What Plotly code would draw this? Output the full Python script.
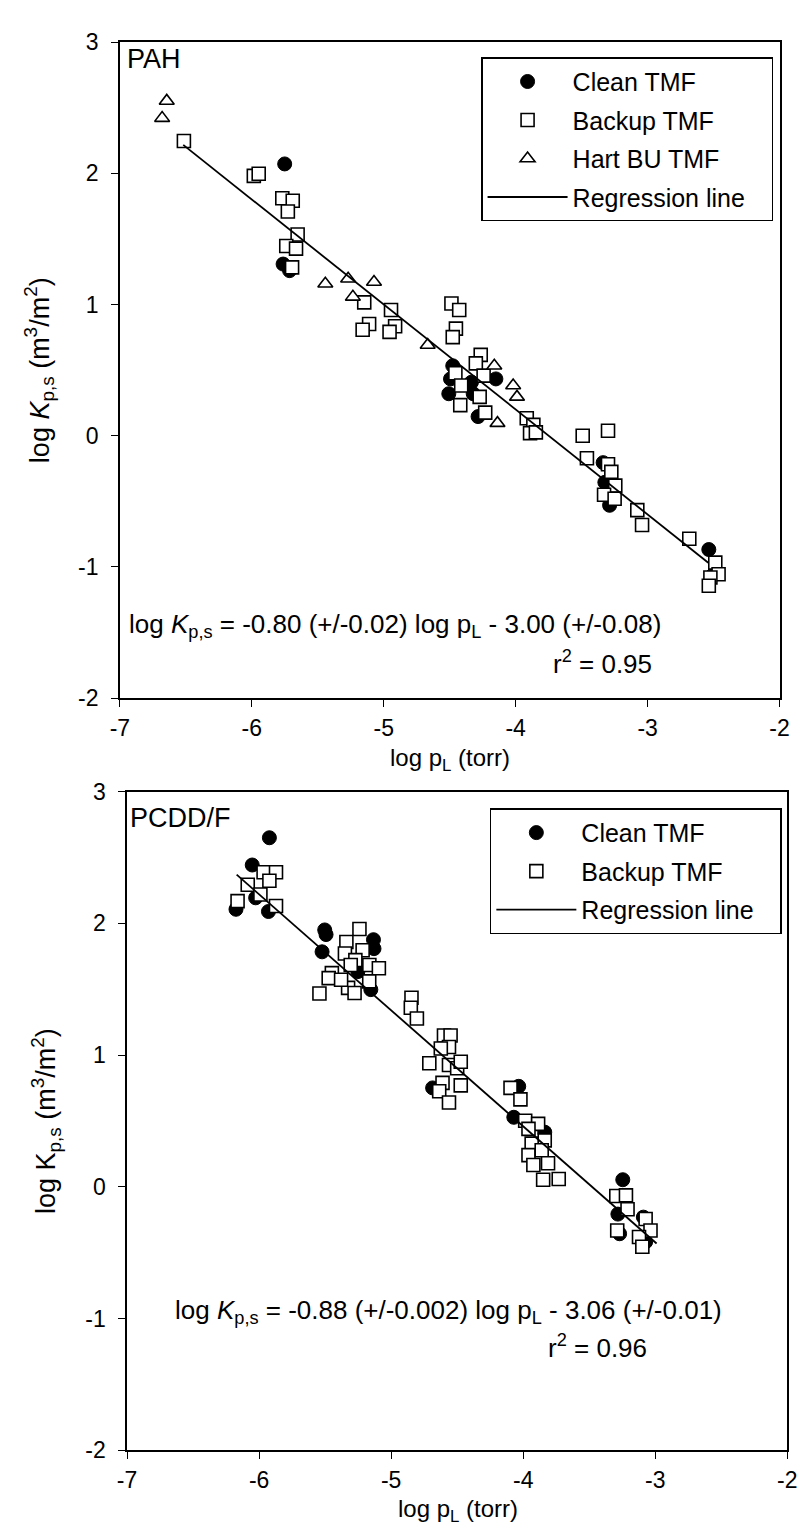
import plotly.graph_objects as go

W, H = 810, 1540
FONT = "Liberation Sans, Arial, sans-serif"

# ---------------- data: PAH panel ----------------
pah_clean_x = [-5.751, -5.763, -5.714, -4.477, -4.494, -4.507, -4.335, -4.150, -4.322, -4.285,
               -3.337, -3.324, -3.288, -2.536, -2.512]
pah_clean_y = [2.071, 1.308, 1.258, 0.533, 0.433, 0.320, 0.408, 0.433, 0.320, 0.146,
               -0.205, -0.355, -0.530, -0.867, -1.067]

pah_backup_x = [-6.515, -5.985, -5.948, -5.769, -5.690, -5.727, -5.653, -5.739, -5.665, -5.695,
                -5.148, -4.945, -5.111, -5.160, -4.914, -4.956, -4.487, -4.428, -4.453, -4.477,
                -4.265, -4.302, -4.457, -4.413, -4.243, -4.273, -4.420, -4.231, -3.916, -3.866,
                -3.891, -3.847, -3.492, -3.300, -3.460, -3.300, -3.275, -3.245, -3.330, -3.250,
                -3.078, -3.042, -2.684, -2.487, -2.462, -2.524, -2.536]
pah_backup_y = [2.246, 1.980, 1.996, 1.809, 1.791, 1.708, 1.533, 1.446, 1.426, 1.283,
                1.016, 0.958, 0.851, 0.808, 0.834, 0.791, 1.008, 0.958, 0.816, 0.751,
                0.616, 0.551, 0.476, 0.383, 0.458, 0.296, 0.233, 0.176, 0.133, 0.083,
                0.020, 0.026, 0.000, 0.038, -0.171, -0.217, -0.275, -0.380, -0.450, -0.480,
                -0.567, -0.680, -0.785, -0.967, -1.055, -1.080, -1.143]

pah_hart_x = [-6.645, -6.680, -5.443, -5.270, -5.074, -5.234, -4.667, -4.162, -4.019, -3.990, -4.138]
pah_hart_y = [2.551, 2.420, 1.158, 1.196, 1.171, 1.058, 0.691, 0.533, 0.383, 0.296, 0.096]

pah_reg_x = [-6.52, -2.54]
pah_reg_y = [2.216, -0.968]

# ---------------- data: PCDD/F panel ----------------
pcdd_clean_x = [-5.922, -6.052, -6.026, -6.175, -5.929, -5.503, -5.493, -5.523, -5.134, -5.130,
                -5.252, -5.154, -4.686, -4.034, -4.071, -3.837, -3.246, -3.283, -3.270, -3.090, -3.073]
pcdd_clean_y = [2.650, 2.443, 2.194, 2.107, 2.090, 1.950, 1.915, 1.784, 1.876, 1.808,
                1.634, 1.497, 0.751, 0.763, 0.528, 0.415, 0.054, -0.207, -0.356, -0.230, -0.418]

pcdd_backup_x = [-5.966, -5.872, -5.922, -6.086, -5.990, -6.163, -5.872, -5.240, -5.339, -5.216,
                 -5.350, -5.271, -5.306, -5.165, -5.093, -5.449, -5.473, -5.326, -5.277, -5.379,
                 -5.166, -5.543, -4.846, -4.851, -4.805, -4.600, -4.550, -4.562, -4.624, -4.711,
                 -4.562, -4.500, -4.473, -4.611, -4.473, -4.636, -4.562, -4.096, -4.021, -3.985,
                 -3.887, -3.960, -3.837, -3.936, -3.960, -3.860, -3.923, -3.812, -3.849, -3.731,
                 -3.295, -3.222, -3.210, -3.288, -3.073, -3.036, -3.123, -3.098]
pcdd_backup_y = [2.388, 2.388, 2.323, 2.293, 2.219, 2.169, 2.132, 1.957, 1.858, 1.796,
                 1.771, 1.721, 1.684, 1.684, 1.659, 1.622, 1.584, 1.510, 1.472, 1.572,
                 1.560, 1.468, 1.435, 1.360, 1.278, 1.149, 1.149, 1.062, 1.050, 0.938,
                 0.925, 0.900, 0.950, 0.789, 0.770, 0.726, 0.640, 0.751, 0.664, 0.502,
                 0.478, 0.440, 0.353, 0.328, 0.241, 0.278, 0.166, 0.179, 0.054, 0.060,
                 -0.070, -0.065, -0.170, -0.331, -0.244, -0.331, -0.381, -0.455]

pcdd_reg_x = [-6.17, -2.99]
pcdd_reg_y = [2.37, -0.43]

# ---------------- ticks ----------------
x_tickvals = [-7, -6, -5, -4, -3, -2]
x_ticktext = ["-7", "-6", "-5", "-4", "-3", "-2"]
y_tickvals = [-2, -1, 0, 1, 2, 3]
y_ticktext = ["-2", "-1", "0", "1", "2", "3"]

# ---------------- layout geometry (pixels) ----------------
top_x0, top_x1, top_y0, top_y1 = 112.7, 789.0, 29.5, 697.0
bot_x0, bot_x1, bot_y0, bot_y1 = 120.0, 797.0, 792.0, 1462.0

def xd(a, b):
    return [a / W, b / W]

def yd(a, b):
    return [1 - b / H, 1 - a / H]

fig = go.Figure()

circle = dict(symbol="circle", size=14, color="black", line=dict(color="black", width=1))
square = dict(symbol="square", size=13, color="white", line=dict(color="black", width=1.6))
tri = dict(symbol="triangle-up", size=13, color="white", line=dict(color="black", width=1.6))
PAD = "\u00a0" * 3

# top panel
fig.add_trace(go.Scatter(x=pah_clean_x, y=pah_clean_y, mode="markers", marker=circle,
                         name="Clean TMF", xaxis="x", yaxis="y", legend="legend", legendgroup="a"))
fig.add_trace(go.Scatter(x=pah_backup_x, y=pah_backup_y, mode="markers", marker=square,
                         name="Backup TMF", xaxis="x", yaxis="y", legend="legend", legendgroup="b"))
fig.add_trace(go.Scatter(x=pah_hart_x, y=pah_hart_y, mode="markers", marker=tri,
                         name="Hart BU TMF", xaxis="x", yaxis="y", legend="legend", legendgroup="c"))
fig.add_trace(go.Scatter(x=pah_reg_x, y=pah_reg_y, mode="lines", line=dict(color="black", width=1.8),
                         name="Regression line" + PAD, xaxis="x", yaxis="y", legend="legend", legendgroup="d"))

# bottom panel
fig.add_trace(go.Scatter(x=pcdd_clean_x, y=pcdd_clean_y, mode="markers", marker=circle,
                         name="Clean TMF", xaxis="x2", yaxis="y2", legend="legend2", legendgroup="e"))
fig.add_trace(go.Scatter(x=pcdd_backup_x, y=pcdd_backup_y, mode="markers", marker=square,
                         name="Backup TMF", xaxis="x2", yaxis="y2", legend="legend2", legendgroup="f"))
fig.add_trace(go.Scatter(x=pcdd_reg_x, y=pcdd_reg_y, mode="lines", line=dict(color="black", width=1.8),
                         name="Regression line" + PAD, xaxis="x2", yaxis="y2", legend="legend2", legendgroup="g"))

axis_common = dict(showline=True, linecolor="black", linewidth=1.5, mirror=True,
                   ticks="outside", ticklen=7, tickwidth=1.2, tickcolor="black",
                   showgrid=False, zeroline=False, tickfont=dict(family=FONT, size=23, color="black"))

legend_common = dict(xanchor="left", yanchor="top", bgcolor="white",
                     bordercolor="black", borderwidth=1.5, font=dict(family=FONT, size=25, color="black"),
                     tracegroupgap=3, itemwidth=80)

fig.update_layout(
    width=W, height=H,
    margin=dict(l=0, r=0, t=0, b=0),
    paper_bgcolor="white", plot_bgcolor="white",
    font=dict(family=FONT, size=24, color="black"),
    showlegend=True,
    xaxis=dict(domain=xd(top_x0, top_x1), range=[-7, -2], tickvals=x_tickvals, ticktext=x_ticktext,
               anchor="y", ticklabelstandoff=1, **axis_common),
    yaxis=dict(domain=yd(top_y0, top_y1), range=[-2, 3], tickvals=y_tickvals, ticktext=y_ticktext,
               anchor="x", ticklabelstandoff=8, **axis_common),
    xaxis2=dict(domain=xd(bot_x0, bot_x1), range=[-7, -2], tickvals=x_tickvals, ticktext=x_ticktext,
                anchor="y2", ticklabelstandoff=1, **axis_common),
    yaxis2=dict(domain=yd(bot_y0, bot_y1), range=[-2, 3], tickvals=y_tickvals, ticktext=y_ticktext,
                anchor="x2", ticklabelstandoff=8, **axis_common),
    legend=dict(x=483 / W, y=1 - 45 / H, **legend_common),
    legend2=dict(x=492 / W, y=1 - 809 / H, **legend_common),
)

ann = []
def A(text, x, y, size=26, xanchor="center", angle=0):
    ann.append(dict(text=text, x=x / W, y=1 - y / H, xref="paper", yref="paper", showarrow=False,
                    xanchor=xanchor, yanchor="middle", textangle=angle, borderpad=0,
                    font=dict(family=FONT, size=size, color="black")))

A("PAH", 119, 47, size=27, xanchor="left")
A("PCDD/F", 122, 819, size=27, xanchor="left")
A("log <i>K</i><sub>p,s</sub> = -0.80 (+/-0.02) log p<sub>L</sub> - 3.00 (+/-0.08)", 395, 623)
A("r<sup>2</sup> = 0.95", 608, 661)
A("log <i>K</i><sub>p,s</sub> = -0.88 (+/-0.002) log p<sub>L</sub> - 3.06 (+/-0.01)", 450, 1321)
A("r<sup>2</sup> = 0.96", 602, 1356)
A("log p<sub>L</sub> (torr)", 451, 759, size=24)
A("log p<sub>L</sub> (torr)", 459, 1523, size=24)
A("log <i>K</i><sub>p,s</sub> (m<sup>3</sup>/m<sup>2</sup>)", 30, 363, size=27, angle=-90)
A("log K<sub>p,s</sub> (m<sup>3</sup>/m<sup>2</sup>)", 37, 1127, size=27, angle=-90)
fig.update_layout(annotations=ann)

fig.write_html("out.html")
